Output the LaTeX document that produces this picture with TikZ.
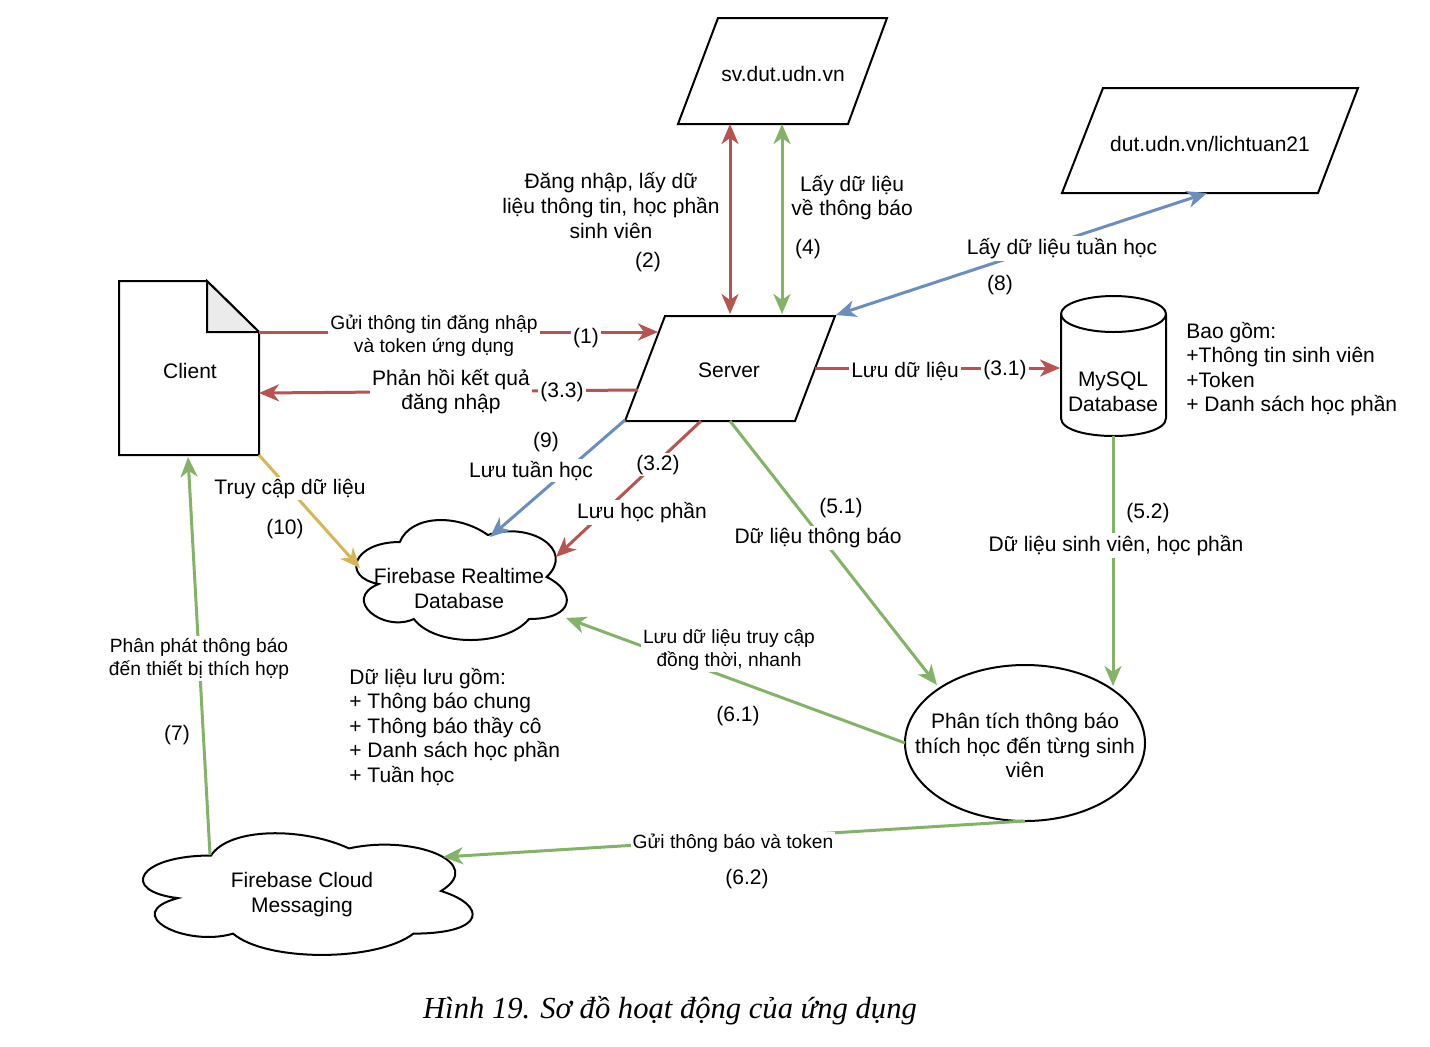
\documentclass[tikz,border=0pt]{standalone}
\usepackage{fontspec}
\setmainfont{Liberation Sans}
\newfontfamily\capfont{Liberation Serif}
\usetikzlibrary{arrows.meta}
\definecolor{cred}{HTML}{B85450}
\definecolor{cgreen}{HTML}{82B366}
\definecolor{cblue}{HTML}{6C8EBF}
\definecolor{cyellow}{HTML}{D6B656}
\definecolor{cfold}{HTML}{EBEBEB}
\newcommand\mycloud[4]{%
  \draw[shapeline] ({#1+0.25*#3},{#2+0.25*#4})
    .. controls ({#1+0.05*#3},{#2+0.25*#4}) and ({#1},{#2+0.5*#4}) .. ({#1+0.16*#3},{#2+0.55*#4})
    .. controls ({#1},{#2+0.66*#4}) and ({#1+0.18*#3},{#2+0.9*#4}) .. ({#1+0.31*#3},{#2+0.8*#4})
    .. controls ({#1+0.4*#3},{#2+#4}) and ({#1+0.7*#3},{#2+#4}) .. ({#1+0.8*#3},{#2+0.8*#4})
    .. controls ({#1+#3},{#2+0.8*#4}) and ({#1+#3},{#2+0.6*#4}) .. ({#1+0.875*#3},{#2+0.5*#4})
    .. controls ({#1+#3},{#2+0.3*#4}) and ({#1+0.8*#3},{#2+0.1*#4}) .. ({#1+0.625*#3},{#2+0.2*#4})
    .. controls ({#1+0.5*#3},{#2+0.05*#4}) and ({#1+0.3*#3},{#2+0.05*#4}) .. ({#1+0.25*#3},{#2+0.25*#4}) -- cycle;}
\tikzset{
  shapeline/.style={draw=black, line width=1pt, line join=miter},
  conn/.style={line width=1.5pt, -{Stealth[length=10pt,width=8.5pt,inset=3pt]}},
  biconn/.style={line width=1.5pt, {Stealth[length=10pt,width=8.5pt,inset=3pt]}-{Stealth[length=10pt,width=8.5pt,inset=3pt]}},
  vtext/.style={font=\fontsize{10.5}{12.3}\selectfont, align=center, inner sep=0pt, yshift=-0.8pt},
  elab/.style={font=\fontsize{10.5}{12.3}\selectfont, align=center, fill=white, inner sep=1pt, yshift=-0.8pt},
  slab/.style={font=\fontsize{9.6}{11.5}\selectfont, align=center, fill=white, inner sep=1pt, yshift=-0.8pt},
}
\begin{document}
\begin{tikzpicture}[x=0.5pt, y=-0.5pt]
\useasboundingbox[fill=white] (0,0) rectangle (1430,1046);

% ---- shapes ----
\draw[shapeline] (718,18) -- (887,18) -- (848,124) -- (678,124) -- cycle;
\node[vtext] (web) at (783,72) {sv.dut.udn.vn};
\draw[shapeline] (1103,88) -- (1358,88) -- (1318,193) -- (1062,193) -- cycle;
\node[vtext] (lt) at (1210,142) {dut.udn.vn/lichtuan21};
\draw[shapeline] (665,316) -- (835,316) -- (795,421) -- (625,421) -- cycle;
\node[vtext] (srv) at (729,369) {Server};
\draw[shapeline] (119,281) -- (207,281) -- (259,332) -- (259,455) -- (119,455) -- cycle;
\draw[shapeline, fill=cfold] (207,281) -- (207,332) -- (259,332) -- cycle;
\node[vtext] (cl) at (190,369) {Client};
\draw[shapeline] (1061,314) -- (1061,418) .. controls (1061,442) and (1166,442) .. (1166,418) -- (1166,314);
\draw[shapeline] (1113.5,314) ellipse [x radius=52.5, y radius=18];
\node[vtext] (my) at (1113,390) {MySQL\\Database};
\mycloud{341}{507}{235}{140}
\node[vtext] (frt) at (459,587) {Firebase Realtime\\Database};
\draw[shapeline] (1025,743) ellipse [x radius=120, y radius=78];
\node[vtext] (pt) at (1025,744) {Phân tích thông báo\\thích học đến từng sinh\\viên};
\mycloud{119}{820}{368}{142}
\node[vtext] (fcm) at (302,893) {Firebase Cloud\\Messaging};

% ---- anchor coordinates ----
\coordinate (clR1) at (259,332);
\coordinate (clR2) at (259,393);
\coordinate (clBR) at (259,455);
\coordinate (clB) at (188,457);
\coordinate (svL1) at (658,332);
\coordinate (svL2) at (638,390);
\coordinate (svT1) at (730,314);
\coordinate (svT2) at (782,314);
\coordinate (svTR) at (836,315);
\coordinate (svR) at (815,368);
\coordinate (svBL) at (625,420);
\coordinate (svB1) at (701,421);
\coordinate (svB2) at (730,421);
\coordinate (webB1) at (730,124);
\coordinate (webB2) at (782,124);
\coordinate (ltB) at (1207,193);
\coordinate (myL) at (1060,368);
\coordinate (myB) at (1113,436);
\coordinate (frtT1) at (490,537);
\coordinate (frtT2) at (556,557);
\coordinate (frtL) at (360,568);
\coordinate (frtR) at (566,618);
\coordinate (ptT1) at (937,685);
\coordinate (ptT2) at (1113,686);
\coordinate (ptL) at (905,743);
\coordinate (ptB) at (1025,821);
\coordinate (fcmR) at (443,857);
\coordinate (fcmT) at (210,855);

% ---- connectors ----
\draw[conn, cred] (clR1) -- (svL1);
\draw[conn, cred] (svL2) -- (clR2);
\draw[biconn, cred] (svT1) -- (webB1);
\draw[biconn, cgreen] (svT2) -- (webB2);
\draw[biconn, cblue] (svTR) -- (ltB);
\draw[conn, cred] (svR) -- (myL);
\draw[conn, cblue] (svBL) -- (frtT1);
\draw[conn, cred] (svB1) -- (frtT2);
\draw[conn, cyellow] (clBR) -- (frtL);
\draw[conn, cgreen] (svB2) -- (ptT1);
\draw[conn, cgreen] (myB) -- (ptT2);
\draw[conn, cgreen] (ptL) -- (frtR);
\draw[conn, cgreen] (ptB) -- (fcmR);
\draw[conn, cgreen] (fcmT) -- (clB);

% ---- labels ----
\node[vtext] (l2) at (611,204) {Đăng nhập, lấy dữ\\liệu thông tin, học phần\\sinh viên};
\node[vtext] (n2) at (648,260) {(2)};
\node[vtext] (l4) at (852,196) {Lấy dữ liệu\\về thông báo};
\node[vtext] (n4) at (808,247) {(4)};
\node[elab] (l8) at (1062,247) {Lấy dữ liệu tuần học};
\node[vtext] (n8) at (1000,283) {(8)};
\node[slab] (l1) at (434,334) {Gửi thông tin đăng nhập\\và token ứng dụng};
\node[elab] (n1) at (586,336) {(1)};
\node[elab] (l33) at (451,390) {Phản hồi kết quả\\đăng nhập};
\node[elab] (n33) at (562,390) {(3.3)};
\node[elab] (l31) at (905,370) {Lưu dữ liệu};
\node[elab] (n31) at (1005,368) {(3.1)};
\node[vtext] (n9) at (546,440) {(9)};
\node[elab] (l9) at (531,469) {Lưu tuần học};
\node[elab] (n32) at (658,463) {(3.2)};
\node[elab] (l32) at (642,511) {Lưu học phần};
\node[elab] (l10) at (290,487) {Truy cập dữ liệu};
\node[vtext] (n10) at (285,527) {(10)};
\node[vtext] (n51) at (841,506) {(5.1)};
\node[elab] (l51) at (818,536) {Dữ liệu thông báo};
\node[vtext] (n52) at (1148,511) {(5.2)};
\node[elab] (l52) at (1116,544) {Dữ liệu sinh viên, học phần};
\node[slab] (l61) at (729,648) {Lưu dữ liệu truy cập\\đồng thời, nhanh};
\node[vtext] (n61) at (738,714) {(6.1)};
\node[slab] (l62) at (733,842) {Gửi thông báo và token};
\node[vtext] (n62) at (747,877) {(6.2)};
\node[slab] (l7) at (199,657) {Phân phát thông báo\\đến thiết bị thích hợp};
\node[vtext] (n7) at (177,733) {(7)};
\node[vtext, align=left, anchor=north west] (bao) at (1186,320) {Bao gồm:\\+Thông tin sinh viên\\+Token\\+ Danh sách học phần};
\node[vtext, align=left, anchor=north west] (dl) at (349,666) {Dữ liệu lưu gồm:\\+ Thông báo chung\\+ Thông báo thầy cô\\+ Danh sách học phần\\+ Tuần học};
\node[font=\capfont\itshape\fontsize{15.3}{18}\selectfont, inner sep=0pt] (cap) at (670,1011) {Hình 19. Sơ đồ hoạt động của ứng dụng};
\end{tikzpicture}
\end{document}
